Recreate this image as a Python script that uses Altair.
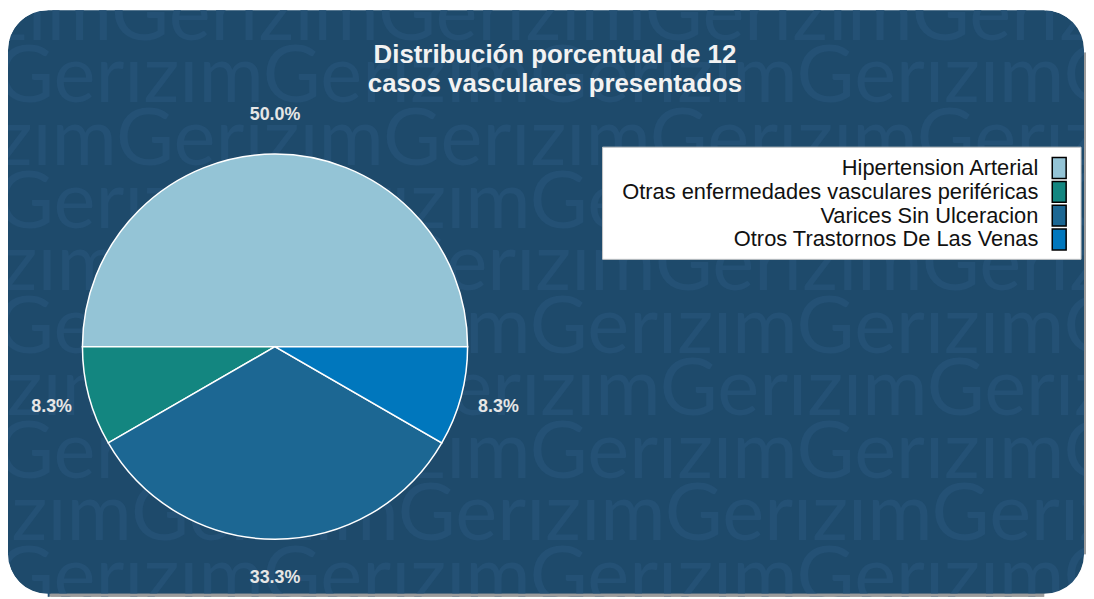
import math
import altair as alt
import pandas as pd

# ---------------- data ----------------
categories = [
    "Hipertension Arterial",
    "Otras enfermedades vasculares periféricas",
    "Varices Sin Ulceracion",
    "Otros Trastornos De Las Venas",
]
counts = [6, 1, 4, 1]
colors = ["#94c4d6", "#138680", "#1c6793", "#0077bd"]
title_lines = ["Distribución porcentual de 12", "casos vasculares presentados"]
watermark_word = "Gerızım"

# ---------------- layout / style ----------------
W, H = 1086, 591
BG = "#1e4a6b"
WM = "#245175"
SHADOW = "#9c9c9c"
CX, CY, R = 269, 339, 194
LABEL_R = 233
CORNER = 40
RECT_W, RECT_H = 1084, 588

df = pd.DataFrame({"cat": categories, "n": counts, "idx": list(range(len(categories)))})
one = pd.DataFrame({"a": [0]})

theta_scale = alt.Scale(range=[math.pi / 2, math.pi / 2 + 2 * math.pi])
color_scale = alt.Scale(domain=categories, range=colors)


def box(x1, x2, y1, y2, **kw):
    return alt.Chart(one).mark_rect(**kw).encode(
        x=alt.value(x1), x2=alt.value(x2), y=alt.value(y1), y2=alt.value(y2)
    )


# background shadow + rounded panel
shadow = box(3, RECT_W + 3, 3, RECT_H + 3, cornerRadius=CORNER, fill=SHADOW)
panel = box(0, RECT_W, 0, RECT_H, cornerRadius=CORNER, fill=BG)

# watermark rows (decoration)
wm_rows = []
for i in range(10):
    g = (108 + 2.5 * i) if i % 2 == 0 else -8
    wm_rows.append({"t": watermark_word * 6, "wx": g - 273, "wy": 30 + 63 * i})
wm_df = pd.DataFrame(wm_rows)
watermark = alt.Chart(wm_df).mark_text(
    align="left", baseline="alphabetic", font="Lato", fontSize=80, color=WM, clip=True
).encode(
    x=alt.X("wx:Q", scale=None), y=alt.Y("wy:Q", scale=None), text="t:N"
)

# edge covers: keep the watermark inside the rounded panel
covers = [
    box(RECT_W, W, 0, CORNER + 3, fill="white", strokeWidth=0),
    box(RECT_W, W, CORNER + 3, RECT_H - CORNER, fill=SHADOW, strokeWidth=0),
    box(CORNER + 3, RECT_W - CORNER, RECT_H, H, fill=SHADOW, strokeWidth=0),
]
for (mx, my, t0) in [
    (CORNER, CORNER, 3 * math.pi / 2),
    (RECT_W - CORNER, CORNER, 0.0),
    (RECT_W - CORNER, RECT_H - CORNER, math.pi / 2),
    (CORNER, RECT_H - CORNER, math.pi),
]:
    covers.append(
        alt.Chart(one).mark_arc(
            theta=t0, theta2=t0 + math.pi / 2, radius=CORNER, radius2=CORNER * 1.7,
            fill="white", strokeWidth=0
        ).encode(x=alt.value(mx), y=alt.value(my))
    )

base = alt.Chart(df)

pie = base.mark_arc(radius=R, stroke="white", strokeWidth=1.5).encode(
    theta=alt.Theta("n:Q", stack=True, scale=theta_scale),
    color=alt.Color("cat:N", scale=color_scale, legend=None),
    order=alt.Order("idx:Q", sort="descending"),
    x=alt.value(CX),
    y=alt.value(CY),
)

labels = base.transform_joinaggregate(total="sum(n)").transform_calculate(
    pct="datum.n / datum.total"
).mark_text(
    radius=LABEL_R, font="Liberation Sans", fontSize=18, fontWeight="bold",
    color="#e6e6e6", align="center", baseline="middle"
).encode(
    theta=alt.Theta("n:Q", stack=True, scale=theta_scale),
    order=alt.Order("idx:Q", sort="descending"),
    text=alt.Text("pct:Q", format=".1%"),
    x=alt.value(CX),
    y=alt.value(CY),
)

title_df = pd.DataFrame({"line": title_lines, "i": [0, 1]})
title = alt.Chart(title_df).transform_calculate(ty="53 + 29 * datum.i").mark_text(
    align="center", baseline="alphabetic", font="Liberation Sans", fontSize=26,
    fontWeight="bold", color="#f2f2f2"
).encode(x=alt.value(551), y=alt.Y("ty:Q", scale=None), text="line:N")

# custom legend (labels right-aligned, keys on the right)
legend_box = box(599, 1081, 138, 251, fill="white", stroke="#c8c8c8", strokeWidth=1)
legend_keys = base.transform_calculate(
    ly1="148.5 + 24 * datum.idx", ly2="169.5 + 24 * datum.idx"
).mark_rect(stroke="black", strokeWidth=1.5).encode(
    x=alt.value(1052), x2=alt.value(1066),
    y=alt.Y("ly1:Q", scale=None), y2=alt.Y2("ly2:Q"),
    color=alt.Color("cat:N", scale=color_scale, legend=None),
)
legend_text = base.transform_calculate(ly="159 + 24 * datum.idx").mark_text(
    align="right", baseline="middle", font="Liberation Sans", fontSize=22, color="#111111"
).encode(x=alt.value(1038), y=alt.Y("ly:Q", scale=None), text="cat:N")

chart = alt.layer(
    shadow, panel, watermark, *covers, pie, labels, title, legend_box, legend_keys, legend_text
).resolve_scale(
    x="independent", y="independent"
).properties(
    width=W, height=H, autosize=alt.AutoSizeParams(type="none"), padding=0, background="white"
).configure_view(stroke="transparent")

chart.save("out.html", embed_options={"renderer": "svg", "actions": False})
